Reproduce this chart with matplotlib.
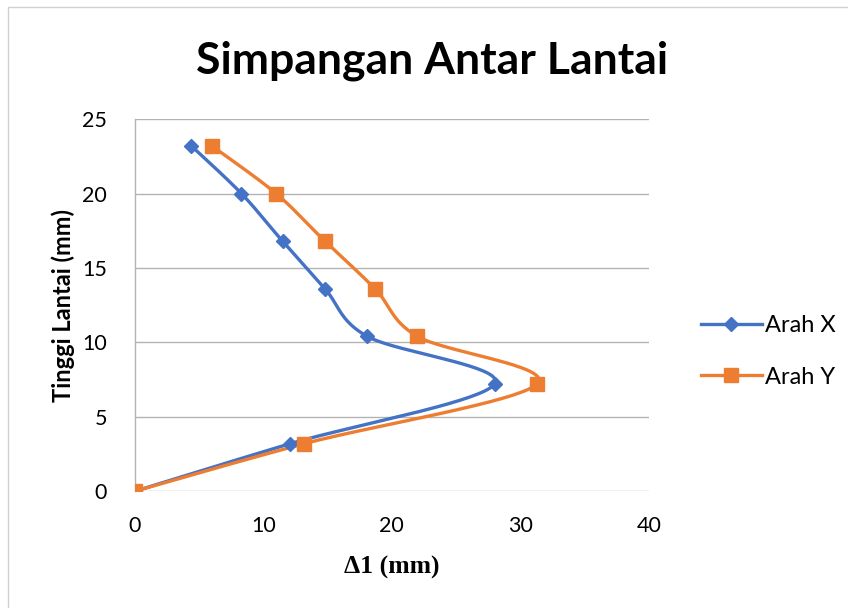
import numpy as np
import matplotlib
matplotlib.use("Agg")
import matplotlib.pyplot as plt
from matplotlib.patches import Rectangle

# Data
heights = [0, 3.2, 7.2, 10.4, 13.6, 16.8, 20.0, 23.2]
arah_x = [0, 12.1, 28.0, 18.1, 14.8, 11.5, 8.3, 4.4]
arah_y = [0, 13.2, 31.3, 22.0, 18.7, 14.8, 11.0, 6.0]
series_names = ["Arah X", "Arah Y"]
x_ticks = [0, 10, 20, 30, 40]
y_ticks = [0, 5, 10, 15, 20, 25]


def smooth(xs, ys, n=40):
    P = np.column_stack([xs, ys]).astype(float)
    out = [P[0]]
    m = len(P)
    for i in range(m - 1):
        p0 = P[i - 1] if i > 0 else P[i]
        p1 = P[i]
        p2 = P[i + 1]
        p3 = P[i + 2] if i + 2 < m else P[i + 1]
        c1 = p1 + (p2 - p0) / 6.0
        c2 = p2 - (p3 - p1) / 6.0
        t = np.linspace(0, 1, n)[1:, None]
        seg = ((1 - t) ** 3) * p1 + 3 * ((1 - t) ** 2) * t * c1 + 3 * (1 - t) * t ** 2 * c2 + t ** 3 * p2
        out.extend(seg)
    out = np.array(out)
    return out[:, 0], out[:, 1]


plt.rcParams['font.family'] = ['Lato', 'DejaVu Sans']

fig = plt.figure(figsize=(8.48, 6.08), dpi=100)
fig.patches.append(Rectangle((0.009, -0.01), 1.2, 0.999, transform=fig.transFigure,
                             fill=False, edgecolor='#d0d0d0', linewidth=1.0))
ax = fig.add_axes([0.159, 0.192, 0.606, 0.612])

blue = '#4472C4'
orange = '#ED7D31'

sx, sy = smooth(arah_x, heights)
ax.plot(sx, sy, color=blue, lw=2.4, solid_capstyle='round', zorder=3)
ax.plot(arah_x, heights, linestyle='none', marker='D', markersize=7.5, color=blue, zorder=4)
sx, sy = smooth(arah_y, heights)
ax.plot(sx, sy, color=orange, lw=2.4, solid_capstyle='round', zorder=3)
ax.plot(arah_y, heights, linestyle='none', marker='s', markersize=9.5, color=orange, zorder=4)

# legend proxies
ax.plot([], [], color=blue, lw=2.4, marker='D', markersize=7.5, label=series_names[0])
ax.plot([], [], color=orange, lw=2.4, marker='s', markersize=9.5, label=series_names[1])

ax.set_xlim(0, 40)
ax.set_ylim(0, 25)
ax.set_xticks(x_ticks)
ax.set_yticks(y_ticks)
ax.tick_params(length=0, labelsize=15.5, colors='black')
ax.tick_params(axis='y', pad=20)
ax.tick_params(axis='x', pad=18)
ax.grid(axis='y', color='#b3b3b3', lw=1.0)
ax.set_axisbelow(True)
for s in ['top', 'right', 'bottom']:
    ax.spines[s].set_visible(False)
ax.spines['left'].set_color('#b3b3b3')
ax.spines['left'].set_linewidth(1.0)

fig.text(0.509, 0.90, 'Simpangan Antar Lantai', fontsize=32, fontweight='bold',
         ha='center', va='center')
ax.set_ylabel('Tinggi Lantai (mm)', fontsize=17, fontweight='bold', labelpad=5)
ax.set_xlabel('Δ1 (mm)', fontsize=18.5, fontweight='bold', family=['Liberation Serif'], labelpad=14)

leg = ax.legend(loc='center left', bbox_to_anchor=(1.06, 0.376), frameon=False, fontsize=17,
                handlelength=2.6, labelspacing=1.3, handletextpad=0.1)

fig.savefig('out.png', dpi=100)
